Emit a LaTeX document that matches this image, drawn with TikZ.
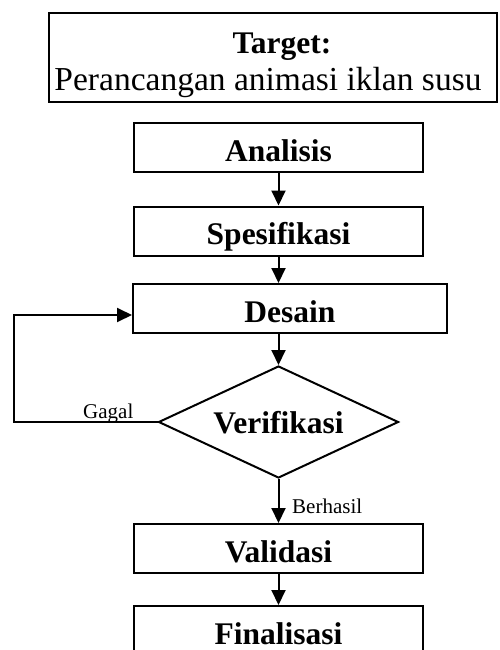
\documentclass[tikz,border=0pt]{standalone}
\usepackage{fontspec}
\setmainfont{Liberation Serif}
\usetikzlibrary{shapes.geometric,arrows.meta}
\tikzset{
  boxfont/.style={font=\fontsize{31.5}{37}\selectfont\bfseries},
  box/.style={draw, line width=2pt, inner sep=0pt, minimum height=49pt,
    text height=27pt, text depth=0pt, boxfont},
  decide/.style={draw, diamond, line width=2pt, inner sep=0pt, aspect=2.14,
    minimum width=240pt, minimum height=112pt},
  conn/.style={line width=2pt, -{Triangle[length=15pt,width=14pt]}},
  small/.style={font=\fontsize{21}{25}\selectfont, inner sep=0pt}
}
\begin{document}
\begin{tikzpicture}[x=1pt,y=-1pt]
\useasboundingbox (0,0) rectangle (499,650);
\clip (0,0) rectangle (499,650);
\node[draw, line width=2pt, minimum width=448pt, minimum height=89pt, inner sep=0pt] (target) at (273,57.5) {};
\node[anchor=base, inner sep=0pt, boxfont] (t1) at (282,54) {Target:};
\node[anchor=base, inner sep=0pt, font=\fontsize{33.5}{40}\selectfont] (t2) at (268,91) {Perancangan animasi iklan susu};
\node[box, minimum width=289pt] (ana) at (278.5,147.5) {Analisis};
\node[box, minimum width=289pt] (spe) at (278.5,231) {Spesifikasi};
\node[box, minimum width=314pt] (des) at (290,308.5) {Desain};
\node[decide] (ver) at (278.5,422) {};
\node[anchor=base, inner sep=0pt, boxfont] (vertext) at (278.5,433) {Verifikasi};
\node[box, minimum width=289pt] (val) at (278.5,548.5) {Validasi};
\node[box, minimum width=289pt] (fin) at (278.5,630.5) {Finalisasi};
\coordinate (loop) at (14,315);
\draw[conn] (ana.south) -- (spe.north);
\draw[conn] (spe.south) -- (spe.south |- des.north);
\draw[conn] (ver.north |- des.south) -- (ver.north);
\draw[conn] (ver.west) -| (loop) -- (des.west |- loop);
\draw[conn] (ver.south) -- (val.north);
\draw[conn] (val.south) -- (fin.north);
\node[small, anchor=base west] (gagal) at (83,418) {Gagal};
\node[small, anchor=base west] (berhasil) at (292,513) {Berhasil};
\end{tikzpicture}
\end{document}
